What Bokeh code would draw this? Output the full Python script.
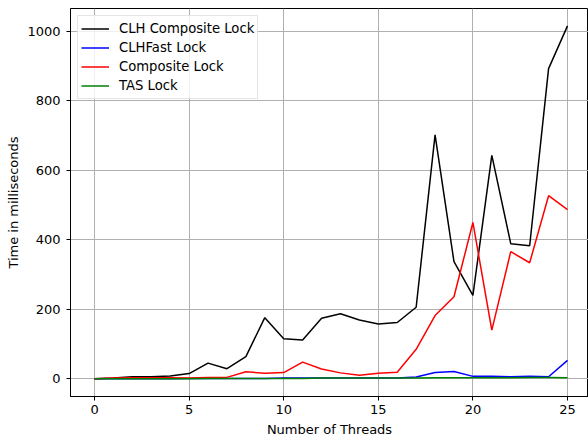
from bokeh.plotting import figure
from bokeh.models import Range1d, FixedTicker, Legend, LegendItem
from bokeh.embed import file_html
from bokeh.resources import INLINE

threads = list(range(26))
clh_composite = [0, 2, 6, 6, 8, 15, 45, 29, 64, 176, 115, 112, 174, 187, 169, 158, 162, 206,
                 702, 337, 240, 643, 389, 383, 893, 1016]
clhfast = [0, 0, 0, 0, 0, 1, 1, 1, 1, 1, 2, 2, 2, 2, 2, 2, 2, 5,
           18, 21, 7, 7, 6, 7, 6, 53]
composite = [0, 2, 3, 3, 3, 2, 4, 4, 20, 16, 18, 48, 28, 17, 10, 16, 19, 85,
             182, 236, 450, 140, 366, 334, 527, 487]
tas = [0, 0, 0, 0, 0, 0, 1, 1, 1, 1, 1, 1, 2, 2, 2, 2, 2, 2,
       3, 3, 3, 3, 3, 4, 4, 3]

x_ticks = [0, 5, 10, 15, 20, 25]
y_ticks = [0, 200, 400, 600, 800, 1000]
series_names = ["CLH Composite Lock", "CLHFast Lock", "Composite Lock", "TAS Lock"]
series_colors = ["black", "blue", "red", "green"]

FONT = "DejaVu Sans"
FS = "13px"

p = figure(width=588, height=439, output_backend="svg", toolbar_location=None,
           x_range=Range1d(-1.27, 26.11), y_range=Range1d(-51, 1066),
           min_border_left=70, min_border_right=0, min_border_top=8, min_border_bottom=43)

p.outline_line_color = "black"
p.outline_line_width = 1
p.background_fill_color = "white"
p.border_fill_color = "white"

renderers = []
for ys, c in zip([clh_composite, clhfast, composite, tas], series_colors):
    r = p.line(threads, ys, line_color=c, line_width=1.5)
    renderers.append(r)

p.xaxis.ticker = FixedTicker(ticks=x_ticks)
p.yaxis.ticker = FixedTicker(ticks=y_ticks)
for ax in (p.xaxis, p.yaxis):
    ax.major_tick_out = 4
    ax.major_tick_in = 0
    ax.minor_tick_out = 0
    ax.minor_tick_in = 0
    ax.axis_line_color = "black"
    ax.axis_line_width = 1
    ax.major_tick_line_color = "black"
    ax.major_label_text_font = FONT
    ax.major_label_text_font_size = FS
    ax.major_label_text_color = "black"
    ax.axis_label_text_font = FONT
    ax.axis_label_text_font_size = FS
    ax.axis_label_text_font_style = "normal"
    ax.axis_label_text_color = "black"

p.xaxis.axis_label = "Number of Threads"
p.yaxis.axis_label = "Time in milliseconds"
p.xaxis.major_label_standoff = 4
p.yaxis.major_label_standoff = 6
p.xaxis.axis_label_standoff = 5
p.yaxis.axis_label_standoff = 3

p.xgrid.ticker = FixedTicker(ticks=x_ticks)
p.ygrid.ticker = FixedTicker(ticks=y_ticks)
for g in (p.xgrid, p.ygrid):
    g.grid_line_color = "#b0b0b0"
    g.grid_line_width = 1

legend = Legend(items=[LegendItem(label=n, renderers=[r]) for n, r in zip(series_names, renderers)],
                location="top_left")
legend.margin = 7
legend.padding = 3
legend.spacing = 0
legend.label_height = 19
legend.glyph_height = 19
legend.glyph_width = 28
legend.label_standoff = 10
legend.label_text_font = FONT
legend.label_text_font_size = "13.2px"
legend.label_text_color = "black"
legend.border_line_color = "#cccccc"
legend.border_line_width = 1
legend.background_fill_color = "white"
legend.background_fill_alpha = 0.8
p.add_layout(legend)

open("out.html", "w").write(file_html(p, INLINE))
